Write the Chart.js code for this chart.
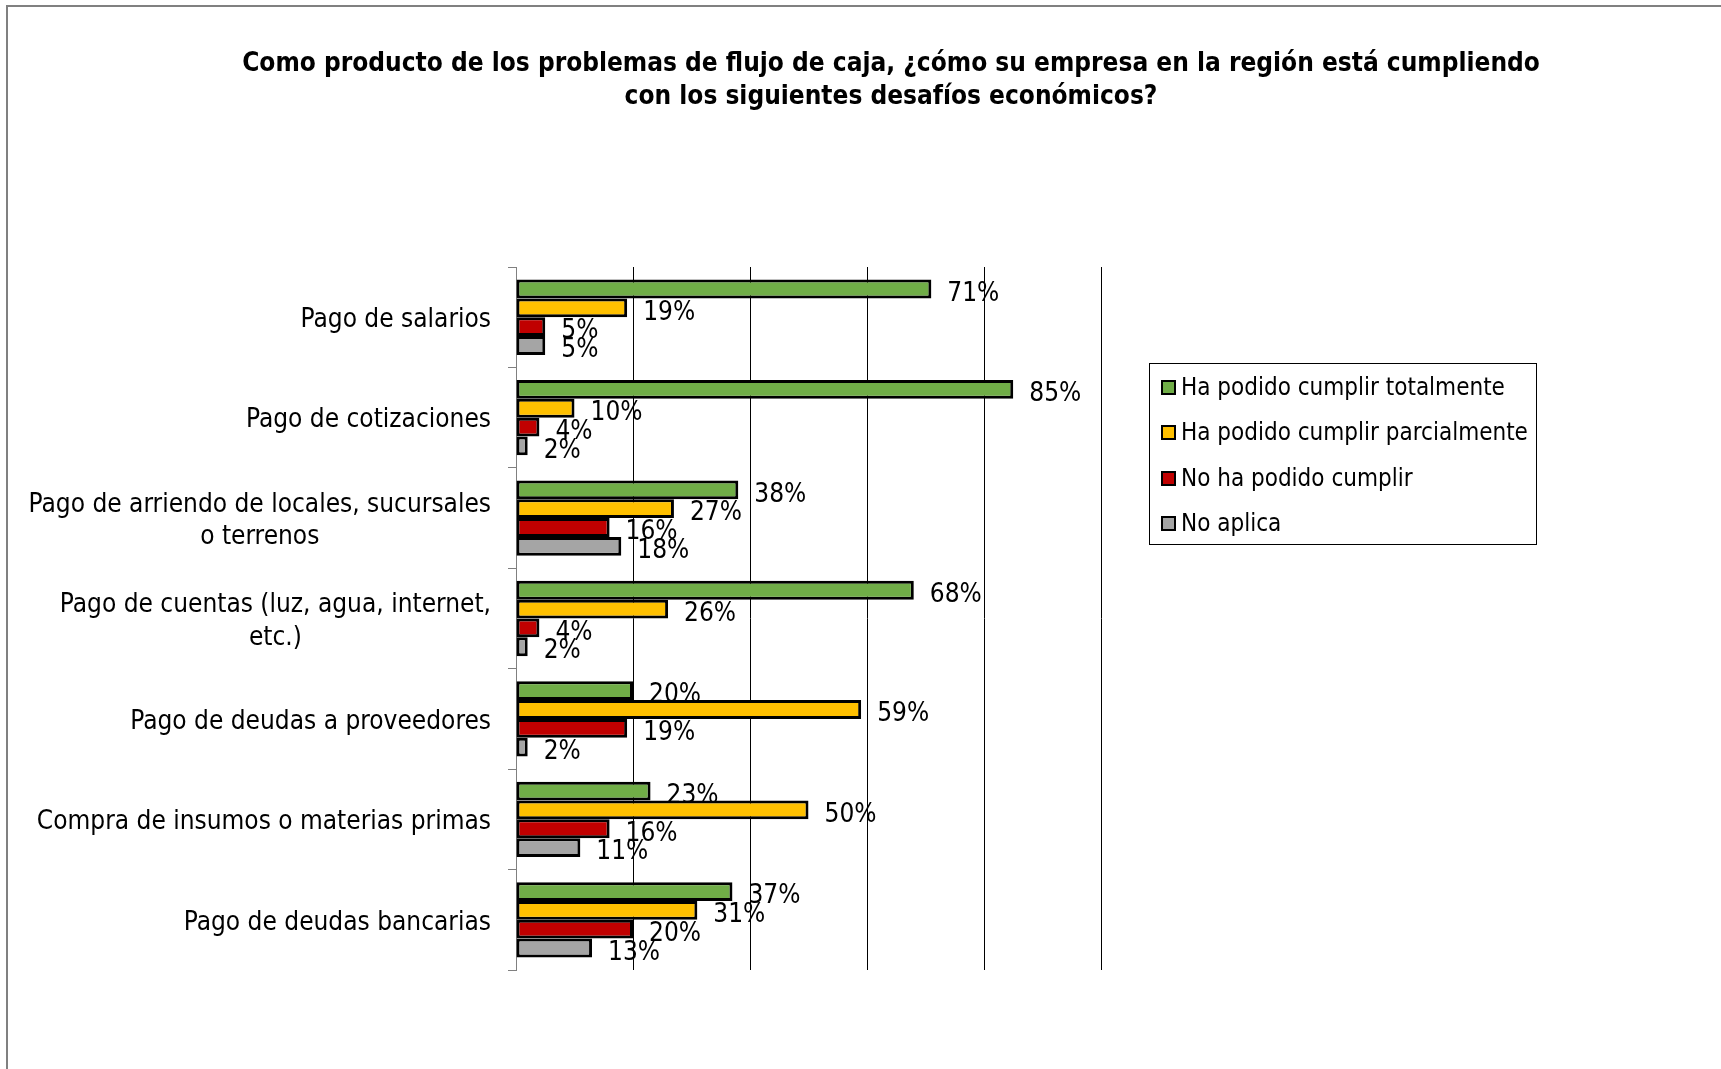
<!DOCTYPE html>
<html>
<head>
<meta charset="utf-8">
<script src="https://cdn.jsdelivr.net/npm/chart.js@4.4.1/dist/chart.umd.min.js"></script>
<style>
    body { margin: 0; background: #fff; }
    #wrap { position: relative; width: 1721px; height: 1069px; }
</style>
</head>
<body>
<div id="wrap"><canvas id="myCanvas" width="1721" height="1069"></canvas></div>
<script>
const titleLines = [
    'Como producto de los problemas de flujo de caja, ¿cómo su empresa en la región está cumpliendo',
    'con los siguientes desafíos económicos?'
]
const categories = [
    ['Pago de salarios'],
    ['Pago de cotizaciones'],
    ['Pago de arriendo de locales, sucursales', 'o terrenos'],
    ['Pago de cuentas (luz, agua, internet,', 'etc.)'],
    ['Pago de deudas a proveedores'],
    ['Compra de insumos o materias primas'],
    ['Pago de deudas bancarias']
]
const seriesNames = ['Ha podido cumplir totalmente', 'Ha podido cumplir parcialmente', 'No ha podido cumplir', 'No aplica']
const totalmente = [71, 85, 38, 68, 20, 23, 37]
const parcialmente = [19, 10, 27, 26, 59, 50, 31]
const noCumplir = [5, 4, 16, 4, 19, 16, 20]
const noAplica = [5, 2, 18, 2, 2, 11, 13]
const xTicks = [0, 20, 40, 60, 80, 100]

const colors = ['#70AD47', '#FFC000', '#C00000', '#A5A5A5']
const family = '"DejaVu Sans Condensed", "DejaVu Sans", sans-serif'

// frame, title, category labels, value labels and legend box
const drawExtras = {
    id: 'drawExtras',
    afterDraw(chart) {
        const ctx = chart.ctx
        const yScale = chart.scales.y
        ctx.save()

        // outer frame (only top and left are visible)
        ctx.strokeStyle = '#808080'
        ctx.lineWidth = 2
        ctx.beginPath()
        ctx.moveTo(7, 1069)
        ctx.lineTo(7, 6)
        ctx.lineTo(1721, 6)
        ctx.stroke()

        // title
        ctx.fillStyle = '#000'
        ctx.textAlign = 'center'
        ctx.textBaseline = 'middle'
        ctx.font = 'bold 26px ' + family
        ctx.fillText(titleLines[0], 891, 64)
        ctx.fillText(titleLines[1], 891, 97)

        // category labels, lines centred on each other, block right aligned
        ctx.font = '26px ' + family
        categories.forEach((lines, i) => {
            const yc = yScale.getPixelForValue(i) + 3
            const w = Math.max(...lines.map(l => ctx.measureText(l).width))
            const cx = 491 - w / 2
            const y0 = yc - (lines.length - 1) * 32.5 / 2
            lines.forEach((l, k) => ctx.fillText(l, cx, y0 + k * 32.5))
        })

        // value labels
        ctx.textAlign = 'left'
        chart.data.datasets.forEach((ds, d) => {
            chart.getDatasetMeta(d).data.forEach((bar, i) => {
                ctx.fillText(ds.data[i] + '%', bar.x + 16, bar.y + 5)
            })
        })

        // legend
        ctx.strokeStyle = '#000'
        ctx.lineWidth = 1
        ctx.strokeRect(1149.5, 363.5, 387, 181)
        ctx.font = '24px ' + family
        const rows = [389, 434, 480, 525]
        chart.data.datasets.forEach((ds, d) => {
            ctx.fillStyle = ds.backgroundColor
            ctx.fillRect(1162, rows[d] - 8, 13, 13)
            ctx.lineWidth = 2
            ctx.strokeRect(1162, rows[d] - 8, 13, 13)
            ctx.fillStyle = '#000'
            ctx.fillText(ds.label, 1181, rows[d])
        })
        ctx.restore()
    }
}

const ctx = document.getElementById('myCanvas').getContext('2d')
new Chart(ctx, {
    type: 'bar',
    data: {
        labels: categories,
        datasets: [
            { label: seriesNames[0], data: totalmente, backgroundColor: colors[0] },
            { label: seriesNames[1], data: parcialmente, backgroundColor: colors[1] },
            { label: seriesNames[2], data: noCumplir, backgroundColor: colors[2] },
            { label: seriesNames[3], data: noAplica, backgroundColor: colors[3] }
        ].map(ds => ({ ...ds, borderColor: '#000', borderWidth: 3, borderSkipped: false, categoryPercentage: 0.75, barPercentage: 1 }))
    },
    options: {
        indexAxis: 'y',
        responsive: false,
        animation: false,
        layout: { padding: { left: 506, right: 620, top: 267, bottom: 99 } },
        plugins: {
            legend: { display: false },
            title: { display: false },
            tooltip: { enabled: false }
        },
        scales: {
            x: {
                min: 0,
                max: 100,
                afterBuildTicks: (scale) => { scale.ticks = xTicks.map(v => ({ value: v })) },
                afterFit: (scale) => { scale.height = 0 },
                ticks: { display: false },
                border: { display: false },
                grid: { color: '#000', lineWidth: 1, drawTicks: false }
            },
            y: {
                afterFit: (scale) => { scale.width = 10 },
                ticks: { display: false },
                border: { display: true, color: '#808080', width: 1 },
                grid: { drawOnChartArea: false, color: '#808080', tickLength: 8, offset: true }
            }
        }
    },
    plugins: [drawExtras]
})
</script>
</body>
</html>
